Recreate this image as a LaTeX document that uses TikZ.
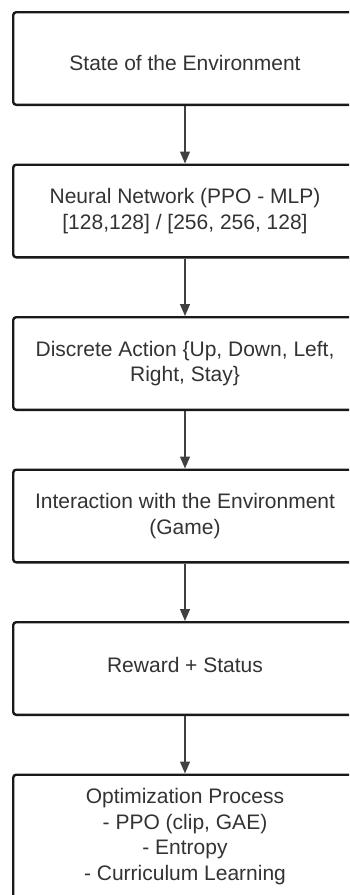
\documentclass[tikz,border=0pt]{standalone}
\usepackage{fontspec}
\setmainfont{Liberation Sans}
\usetikzlibrary{arrows.meta, positioning}

\begin{document}
\begin{tikzpicture}[
    node distance=57.5pt,
    font=\fontsize{21}{25.5}\selectfont,
    >={Triangle[length=12pt, width=10pt]},
    box/.style={rectangle, draw=black!90, line width=2.4pt, rounded corners=3pt, fill=white, text=black!80, align=center, minimum height=92.6pt, minimum width=343.6pt, inner sep=2pt},
    line/.style={draw, ->, line width=1.3pt, black!75}
]
\useasboundingbox (0,0) rectangle (349pt,-895pt);
\clip (0,0) rectangle (349pt,-895pt);

% Nodes
\node[box, anchor=north west, text height=24pt, text depth=0pt] (state) at (12pt,-11pt) {State of the Environment};

\node[box, below=of state] (net) {Neural Network (PPO - MLP)\\{}[128,128] / [256, 256, 128]};

\node[box, below=of net] (action) {Discrete Action \{Up, Down, Left,\\Right, Stay\}};

\node[box, below=of action] (game) {Interaction with the Environment\\(Game)};

\node[box, below=of game, text depth=8pt] (reward) {Reward + Status};

\node[box, below=of reward, minimum height=170pt, anchor=north] (optim) {};
\node[below=13pt of optim.north, align=center, text=black!80, inner sep=2pt] (optimtext) {Optimization Process\\- PPO (clip, GAE)\\- Entropy\\- Curriculum Learning};

% Edges
\draw[line] (state) -- (net);
\draw[line] (net) -- (action);
\draw[line] (action) -- (game);
\draw[line] (game) -- (reward);
\draw[line] (reward) -- (optim);

\end{tikzpicture}
\end{document}
